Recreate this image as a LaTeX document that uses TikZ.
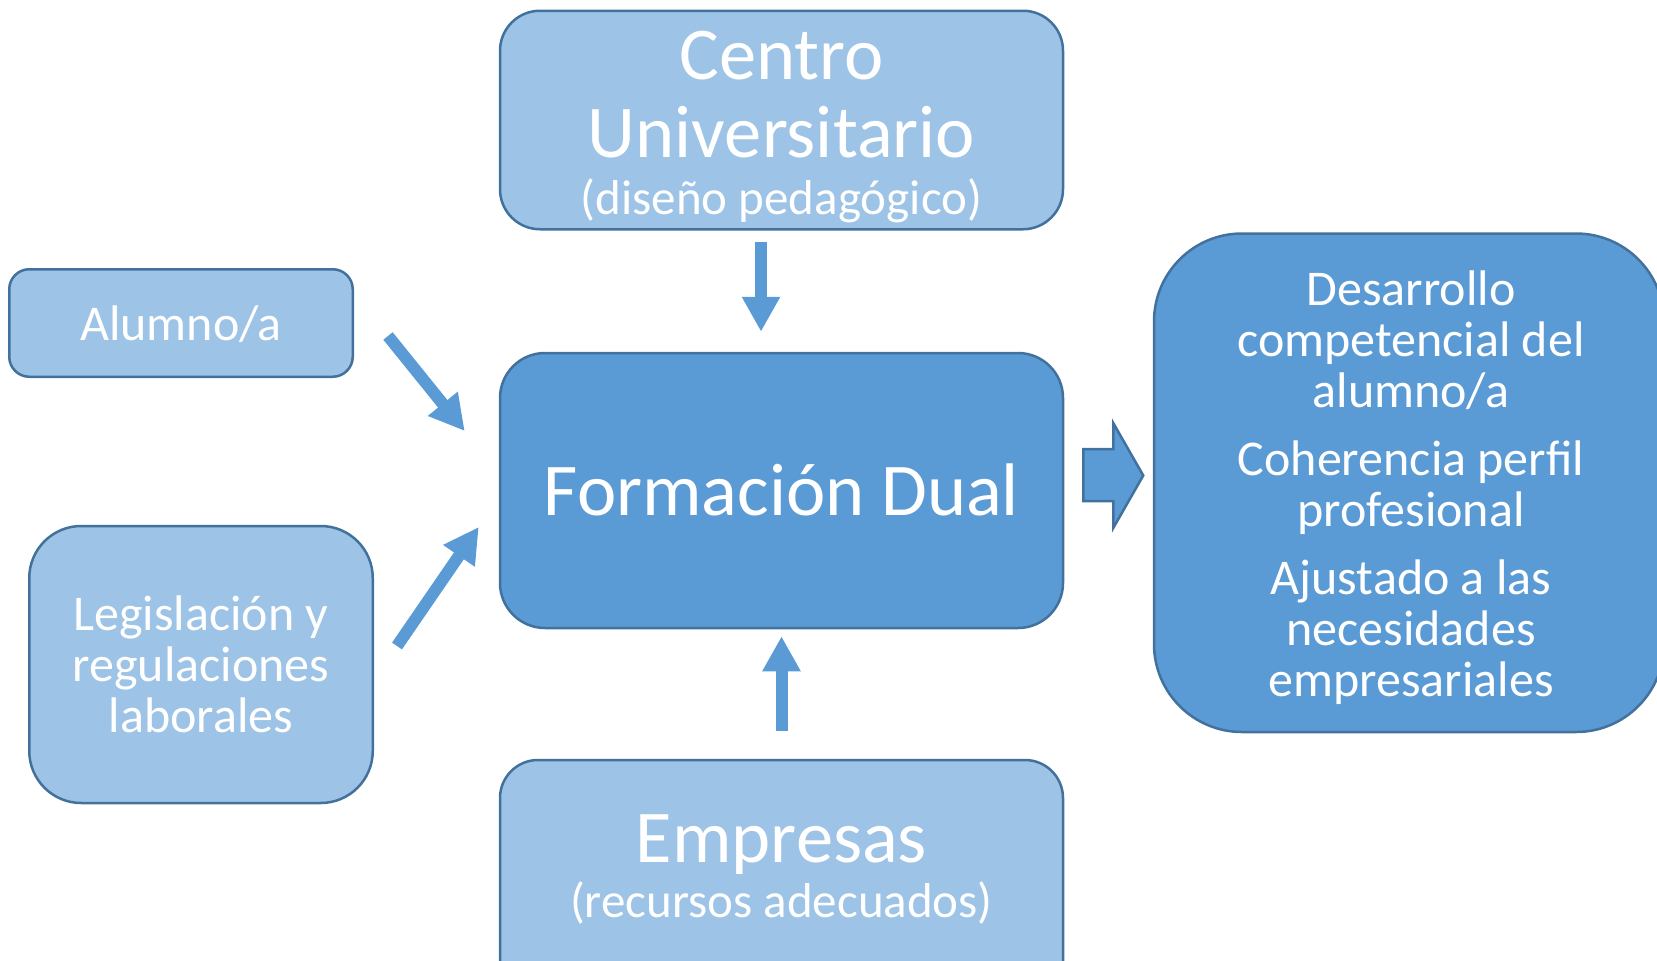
\documentclass[tikz,border=0pt]{standalone}
\usepackage{fontspec}
\setmainfont{Carlito}
\usetikzlibrary{arrows.meta}
\definecolor{lightbox}{HTML}{9DC3E6}
\definecolor{darkbox}{HTML}{5B9BD5}
\definecolor{edgeblue}{HTML}{41719C}
\begin{document}
\begin{tikzpicture}[x=1pt,y=-1pt,
  box/.style={draw=edgeblue, line width=2.5pt, fill=lightbox, inner sep=0pt},
  dbox/.style={box, fill=darkbox},
  txt/.style={text=white, align=center, inner sep=0pt},
  bigtxt/.style={txt, anchor=base, font=\fontsize{74.5}{77}\selectfont},
  midtxt/.style={txt, anchor=base, font=\fontsize{49}{52}\selectfont},
  smalltxt/.style={txt, font=\fontsize{50}{51}\selectfont},
  arr/.style={draw=darkbox, line width=12pt, -{Triangle[width=36pt,length=35pt]}},
]
\useasboundingbox (0,0) rectangle (1657,961);
% boxes
\node[box, rounded corners=40pt, minimum width=563pt, minimum height=218.5pt] (cu) at (781.5,120) {};
\node[dbox, rounded corners=45pt, minimum width=563pt, minimum height=275pt] (fd) at (781.5,490.5) {};
\node[box, rounded corners=38pt, minimum width=563pt, minimum height=240pt] (emp) at (781.5,880) {};
\node[box, rounded corners=20pt, minimum width=343.5pt, minimum height=107.5pt] (alu) at (181,323) {};
\node[box, rounded corners=52pt, minimum width=343.5pt, minimum height=277pt] (leg) at (201,664.5) {};
\node[dbox, rounded corners=88pt, minimum width=510pt, minimum height=498.5pt] (res) at (1409,482.75) {};
% texts
\node[bigtxt] (cu1) at (781.5,79.5) {Centro};
\node[bigtxt] (cu2) at (781.5,157) {Universitario};
\node[midtxt] (cu3) at (781.5,214) {(diseño pedagógico)};
\node[bigtxt] (fdt) at (781.5,515) {Formación Dual};
\node[bigtxt] (emp1) at (781.5,862) {Empresas};
\node[midtxt] (emp2) at (781.5,917) {(recursos adecuados)};
\node[txt, anchor=base, font=\fontsize{50}{51}\selectfont] (alut) at (181,340) {Alumno/a};
\node[smalltxt] (legt) at (201,664) {Legislación y\\regulaciones\\laborales};
\node[smalltxt] (rest) at (1411,488) {Desarrollo\\competencial del\\alumno/a\\[17pt]Coherencia perfil\\profesional\\[17pt]Ajustado a las\\necesidades\\empresariales};
% connectors
\draw[arr] ([xshift=-20.5pt,yshift=-11.5pt]cu.south) -- ([xshift=-20.5pt,yshift=20pt]fd.north);
\draw[arr] ([yshift=28pt]emp.north) -- ([yshift=-7pt]fd.south);
\draw[arr] ([shift={(34,13)}]alu.east) -- ([shift={(-34,-59.5)}]fd.west);
\draw[arr] ([shift={(23,-18.5)}]leg.east) -- ([shift={(-20,36.5)}]fd.west);
% block arrow to result
\draw[draw=edgeblue, line width=2.5pt, fill=darkbox, line join=miter]
  ([shift={(19,-41.5)}]fd.east) -- ++(30,0) -- ++(0,-26) -- ([shift={(79,-15)}]fd.east)
  -- ([shift={(49,37.5)}]fd.east) -- ++(0,-27) -- ++(-30,0) -- cycle;
\end{tikzpicture}
\end{document}
